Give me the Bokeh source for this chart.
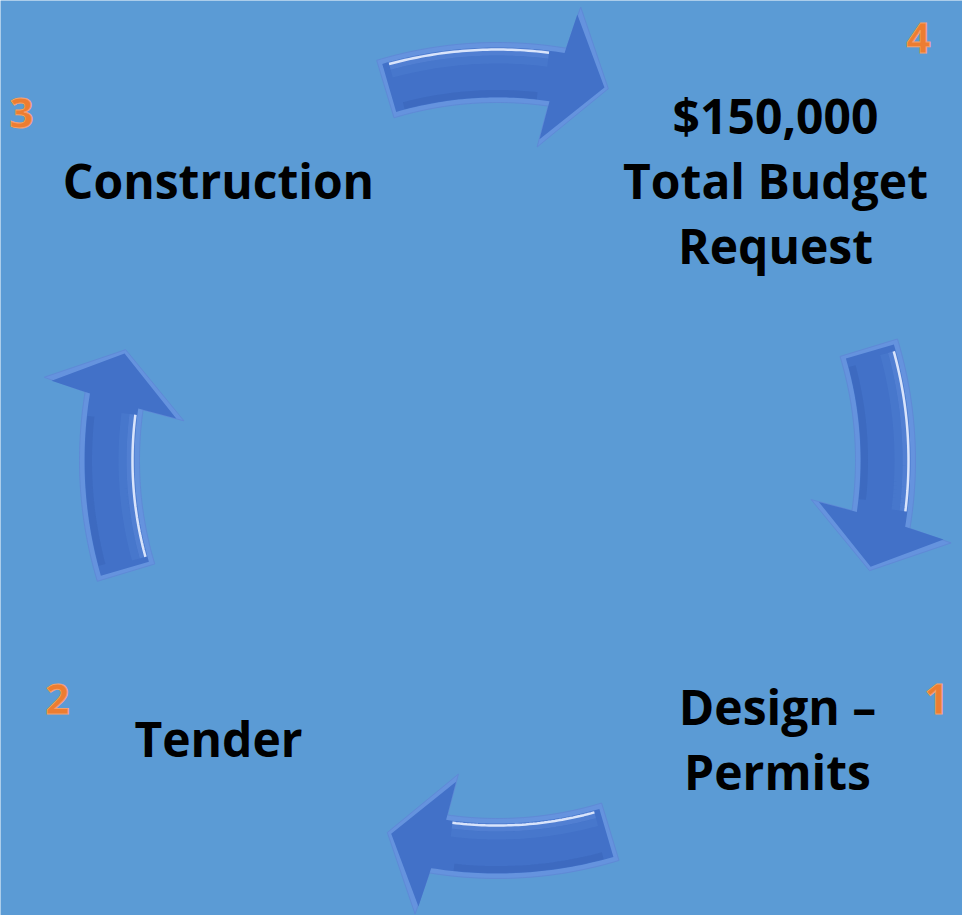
import numpy as np
from bokeh.plotting import figure
from bokeh.models import Range1d, ColumnDataSource
from bokeh.core.properties import value
from bokeh.embed import file_html
from bokeh.resources import INLINE

# ---- diagram content ----
stage_numbers = ["1", "2", "3", "4"]
stage_lines = [
    ["Design \u2013", "Permits"],
    ["Tender"],
    ["Construction"],
    ["$150,000", "Total Budget", "Request"],
]
# tail angle (degrees, counter-clockwise from east) of the arrow leaving each stage
arrow_tail_deg = [16.9, -73.1, 196.8, 106.8]

# ---- layout / style ----
BG = "#5B9BD5"
ARROW = "#4271C8"
ARROW_RIM = "#6593DE"
NUM_COLOR = "#ED7D31"
FONT = "Open Sans"

cx, cy = 497.0, 460.0
r_out, r_in = 418.0, 358.0
r_mid = (r_out + r_in) / 2

label_pos = [(777, 738), (218, 738), (218, 180), (775, 180)]
line_gap = 65
num_pos = [(936, 698), (57, 698), (21, 112), (918, 37)]

W, H = 962, 915
p = figure(width=W, height=H, output_backend="svg", toolbar_location=None,
           x_range=Range1d(0, W), y_range=Range1d(H, 0),
           min_border=0, background_fill_color=BG, border_fill_color=BG)
p.axis.visible = False
p.grid.visible = False
p.outline_line_color = None


def polar(r, deg):
    t = np.radians(deg)
    return cx + r * np.cos(t), cy - r * np.sin(t)


def arc(r, a, b, n=40):
    ang = np.linspace(a, b, n)
    xs, ys = polar(r, ang)
    return list(xs), list(ys)


def arrow_shape(a0, inset=0.0):
    ro, ri = r_out - inset, r_in + inset
    hi_r, hi_a = 316.0 + inset * 1.6, a0 - 24.0 - inset * 0.05
    ho_r, ho_a = 461.0 - inset * 1.6, a0 - 27.2 + inset * 0.05

    def base_angle(r):
        f = (r - 316.0) / (461.0 - 316.0)
        return a0 - 24.0 - 3.2 * f

    tail = a0 - inset * 0.12
    tip_r, tip_a = r_mid, a0 - 33.4 + inset * 0.12
    ox, oy = arc(ro, tail, base_angle(ro))
    ix, iy = arc(ri, base_angle(ri), tail)
    hx = [polar(ho_r, ho_a)[0], polar(tip_r, tip_a)[0], polar(hi_r, hi_a)[0]]
    hy = [polar(ho_r, ho_a)[1], polar(tip_r, tip_a)[1], polar(hi_r, hi_a)[1]]
    return ox + hx + ix, oy + hy + iy


for a0 in arrow_tail_deg:
    mid = np.radians(a0 - 13)
    lit_outer = (np.sin(mid) + np.cos(mid)) > 0
    xs, ys = arrow_shape(a0)
    p.patch(xs, ys, fill_color=ARROW_RIM, line_color="#5F8AD6", line_width=1)
    xs2, ys2 = arrow_shape(a0, inset=5)
    p.patch(xs2, ys2, fill_color=ARROW, line_color=None)
    sgn = -1 if lit_outer else 1
    base_r = r_out - 9 if lit_outer else r_in + 9
    for k, (col, al) in enumerate([("#5B89D9", 0.6), ("#4E7ED0", 0.45)]):
        rr = base_r + sgn * k * 8
        hx, hy = arc(rr, a0 - 1.5, a0 - 24.0)
        p.line(hx, hy, line_color=col, line_width=8, line_alpha=al)
    hx, hy = arc(r_out - 7 if lit_outer else r_in + 7, a0 - 1.5, a0 - 24.0)
    p.line(hx, hy, line_color="#E8F0FF", line_width=2.5, line_alpha=0.9)
    hx, hy = arc(r_in + 9 if lit_outer else r_out - 9, a0 - 2.0, a0 - 23.0)
    p.line(hx, hy, line_color="#3763B8", line_width=7, line_alpha=0.5)

# stage labels
tx, ty, tt = [], [], []
for (x, y), lines in zip(label_pos, stage_lines):
    n = len(lines)
    for i, s in enumerate(lines):
        tx.append(x)
        ty.append(y + (i - (n - 1) / 2) * line_gap)
        tt.append(s)
src = ColumnDataSource(dict(x=tx, y=ty, text=tt))
p.text(x="x", y="y", text="text", source=src, text_font=value(FONT),
       text_font_style="bold", text_font_size="48px", text_color="black",
       text_align="center", text_baseline="middle")

# stage numbers
nsrc = ColumnDataSource(dict(x=[q[0] for q in num_pos], y=[q[1] for q in num_pos],
                             text=stage_numbers))
p.text(x="x", y="y", text="text", source=nsrc, text_font=value(FONT),
       text_font_style="bold", text_font_size="42px", text_color=NUM_COLOR,
       text_align="center", text_baseline="middle",
       text_outline_color="#F5A06A")

open("out.html", "w").write(file_html(p, INLINE))
